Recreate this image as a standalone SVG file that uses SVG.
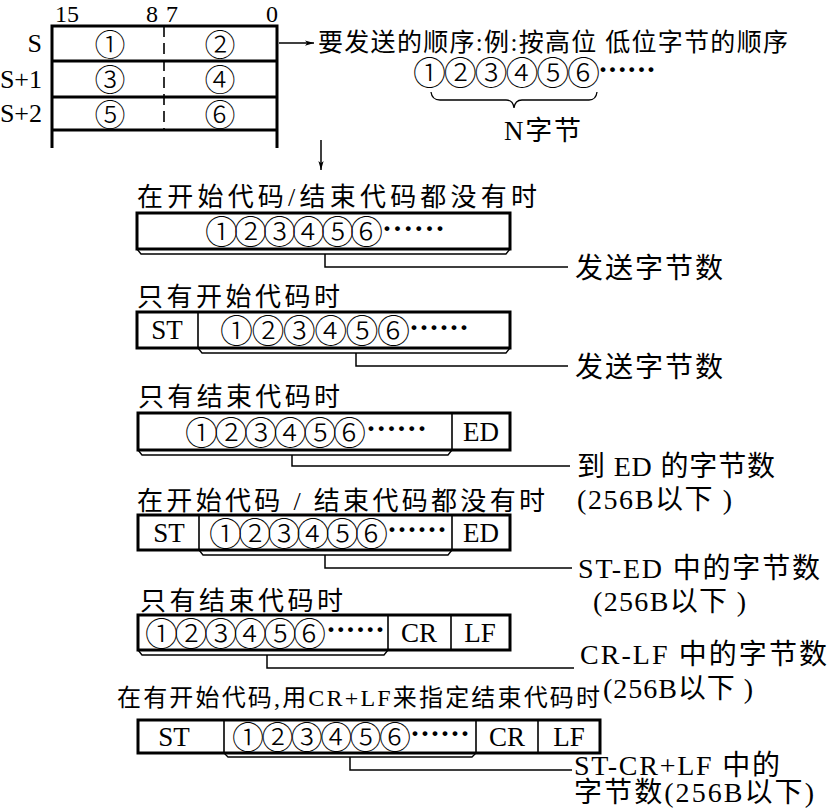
<svg xmlns="http://www.w3.org/2000/svg" width="827" height="808" viewBox="0 0 827 808">
<defs>
<style>
.t{font-family:"Liberation Serif","Noto Sans CJK SC",serif;fill:#000}
.c{font-family:"Noto Sans CJK SC","DejaVu Sans",sans-serif;font-weight:300;fill:#000}
.d{font-family:"Liberation Serif",serif;font-weight:bold;font-size:30px;fill:#000}
.box{fill:#fff;stroke:#000;stroke-width:3}
.div{stroke:#000;stroke-width:1.6;fill:none}
.br{stroke:#000;stroke-width:1.3;fill:none}
.ln{stroke:#000;stroke-width:1.5;fill:none}
</style>
<marker id="ah" viewBox="0 0 12 8" refX="12" refY="4" markerWidth="14" markerHeight="6" markerUnits="userSpaceOnUse" orient="auto"><path d="M0,0.5 L12,4 L0,7.5 L3,4 z" fill="#000"/></marker>
</defs>
<rect width="827" height="808" fill="#fff"/>

<g id="register-table">
<text class="t" x="55" y="22" font-size="24">15</text>
<text class="t" x="146" y="22" font-size="24">8</text>
<text class="t" x="166" y="22" font-size="24">7</text>
<text class="t" x="266" y="22" font-size="24">0</text>
<text class="t" x="42" y="52" font-size="26" text-anchor="end">S</text>
<text class="t" x="42" y="88" font-size="26" text-anchor="end">S+1</text>
<text class="t" x="42" y="122" font-size="26" text-anchor="end">S+2</text>
<path d="M52,148 V26 H277 V148" fill="none" stroke="#000" stroke-width="3"/>
<path d="M52,61 H277 M52,97 H277 M52,130 H277" stroke="#000" stroke-width="3"/>
<path d="M164,26 V130" stroke="#000" stroke-width="1.6" stroke-dasharray="11 6"/>
<text class="c" x="110" y="55.5" font-size="31" text-anchor="middle">①</text>
<text class="c" x="220" y="55.5" font-size="31" text-anchor="middle">②</text>
<text class="c" x="110" y="91" font-size="31" text-anchor="middle">③</text>
<text class="c" x="220" y="91" font-size="31" text-anchor="middle">④</text>
<text class="c" x="110" y="125.5" font-size="31" text-anchor="middle">⑤</text>
<text class="c" x="220" y="125.5" font-size="31" text-anchor="middle">⑥</text>
</g>

<g id="order-note">
<text class="t" x="318" y="51" font-size="25" textLength="470">要发送的顺序:例:按高位 低位字节的顺序</text>
<text class="c" x="413" y="85" font-size="33" textLength="187">①②③④⑤⑥</text>
<text class="d" x="598" y="79" textLength="58">······</text>
<path d="M431,92 Q432,100 440,100 H506 Q513,100 514,108 Q515,100 522,100 H589 Q596,100 597,92" class="br"/>
<text class="t" x="504" y="140" font-size="27" textLength="77">N字节</text>
</g>

<g id="connectors">
<line x1="279" y1="43" x2="314" y2="43" class="ln" marker-end="url(#ah)"/>
<line x1="321" y1="140" x2="321" y2="170" class="ln" marker-end="url(#ah)"/>
<path d="M325,254 V267 H568" class="ln"/>
<path d="M356,353 V366 H568" class="ln"/>
<path d="M292,455 V466 H570" class="ln"/>
<path d="M325,555 V568 H572" class="ln"/>
<path d="M267,655 V668 H574" class="ln"/>
<path d="M350,757 V770 H572" class="ln"/>
</g>

<g id="case1">
<text class="t" x="137" y="206" font-size="26" textLength="400">在开始代码/结束代码都没有时</text>
<rect class="box" x="137" y="213" width="373" height="36"/>
<text class="c" x="205" y="244" font-size="33" textLength="178">①②③④⑤⑥</text>
<text class="d" x="382" y="238" textLength="63">······</text>
<path d="M137,249 L141,254 H506 L510,249" class="br"/>
<text class="t" x="575" y="278" font-size="28" textLength="148">发送字节数</text>
</g>

<g id="case2">
<text class="t" x="137" y="306" font-size="26" textLength="203">只有开始代码时</text>
<rect class="box" x="137" y="312" width="373" height="36"/>
<line x1="198" y1="312" x2="198" y2="348" class="div"/>
<text class="t" x="167" y="339" font-size="27" text-anchor="middle">ST</text>
<text class="c" x="220" y="343" font-size="33" textLength="190">①②③④⑤⑥</text>
<text class="d" x="409" y="337" textLength="60">······</text>
<path d="M198,348 L202,353 H506 L510,348" class="br"/>
<text class="t" x="575" y="377" font-size="28" textLength="148">发送字节数</text>
</g>

<g id="case3">
<text class="t" x="138" y="406" font-size="26" textLength="202">只有结束代码时</text>
<rect class="box" x="138" y="413" width="372" height="37"/>
<line x1="452" y1="413" x2="452" y2="450" class="div"/>
<text class="c" x="185" y="444.5" font-size="33" textLength="181">①②③④⑤⑥</text>
<text class="d" x="366" y="438" textLength="61">······</text>
<text class="t" x="481" y="441" font-size="27" text-anchor="middle">ED</text>
<path d="M138,450 L142,455 H448 L452,450" class="br"/>
<text class="t" x="577" y="476" font-size="28" textLength="198">到 ED 的字节数</text>
<text class="t" x="577" y="509" font-size="28" textLength="155">(256B以下 )</text>
</g>

<g id="case4">
<text class="t" x="137" y="510" font-size="26" textLength="408">在开始代码 / 结束代码都没有时</text>
<rect class="box" x="138" y="515" width="372" height="35"/>
<line x1="199" y1="515" x2="199" y2="550" class="div"/>
<line x1="452" y1="515" x2="452" y2="550" class="div"/>
<text class="t" x="169" y="542" font-size="27" text-anchor="middle">ST</text>
<text class="c" x="209" y="545.5" font-size="33" textLength="179">①②③④⑤⑥</text>
<text class="d" x="387" y="539" textLength="60">······</text>
<text class="t" x="481" y="542" font-size="27" text-anchor="middle">ED</text>
<path d="M199,550 L203,555 H448 L452,550" class="br"/>
<text class="t" x="578" y="578" font-size="28" textLength="242">ST-ED 中的字节数</text>
<text class="t" x="593" y="611" font-size="28" textLength="153">(256B以下 )</text>
</g>

<g id="case5">
<text class="t" x="140" y="610" font-size="26" textLength="203">只有结束代码时</text>
<rect class="box" x="138" y="615" width="372" height="35"/>
<line x1="388" y1="615" x2="388" y2="650" class="div"/>
<line x1="451" y1="615" x2="451" y2="650" class="div"/>
<text class="c" x="145" y="645.5" font-size="33" textLength="181">①②③④⑤⑥</text>
<text class="d" x="326" y="639" textLength="59">······</text>
<text class="t" x="419" y="642" font-size="27" text-anchor="middle">CR</text>
<text class="t" x="480" y="642" font-size="27" text-anchor="middle">LF</text>
<path d="M138,650 L142,655 H384 L388,650" class="br"/>
<text class="t" x="580" y="664" font-size="28" textLength="247">CR-LF 中的字节数</text>
<text class="t" x="603" y="698" font-size="28" textLength="150">(256B以下 )</text>
</g>

<g id="case6">
<text class="t" x="117" y="706" font-size="24" textLength="483">在有开始代码,用CR+LF来指定结束代码时</text>
<rect class="box" x="138" y="720" width="462" height="33"/>
<line x1="224" y1="720" x2="224" y2="753" class="div"/>
<line x1="476" y1="720" x2="476" y2="753" class="div"/>
<line x1="538" y1="720" x2="538" y2="753" class="div"/>
<text class="t" x="174" y="746" font-size="27" text-anchor="middle">ST</text>
<text class="c" x="232" y="748.5" font-size="32" textLength="179">①②③④⑤⑥</text>
<text class="d" x="410" y="743" textLength="60">······</text>
<text class="t" x="507" y="746" font-size="27" text-anchor="middle">CR</text>
<text class="t" x="569" y="746" font-size="27" text-anchor="middle">LF</text>
<path d="M224,753 L228,757 H472 L476,753" class="br"/>
<text class="t" x="574" y="775" font-size="28" textLength="206">ST-CR+LF 中的</text>
<text class="t" x="574" y="802" font-size="28" textLength="240">字节数(256B以下)</text>
</g>
</svg>
